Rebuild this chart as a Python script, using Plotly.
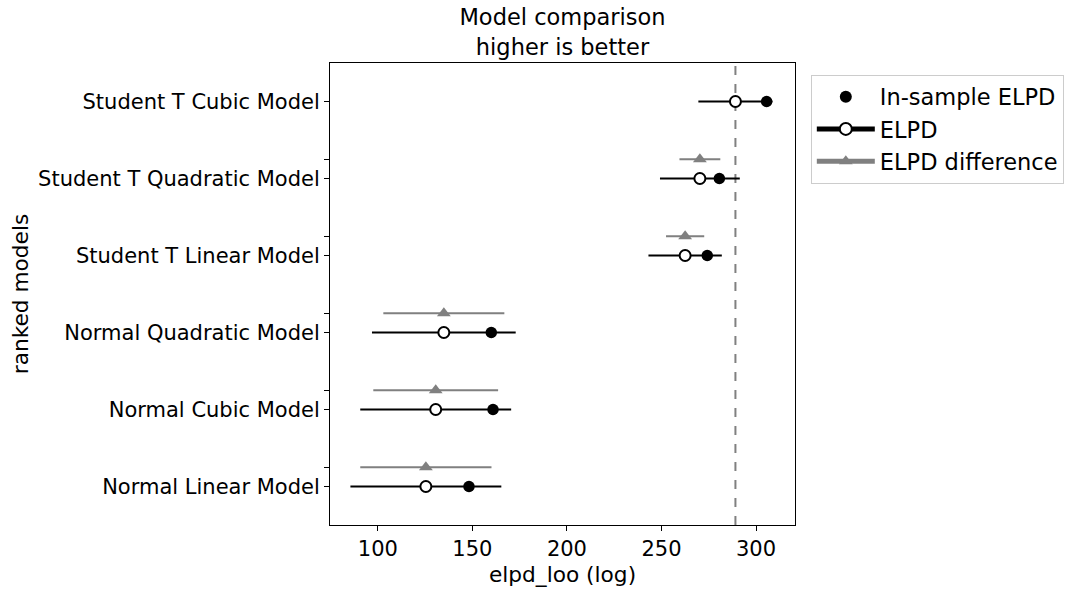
import plotly.graph_objects as go

models = ["Student T Cubic Model", "Student T Quadratic Model", "Student T Linear Model",
          "Normal Quadratic Model", "Normal Cubic Model", "Normal Linear Model"]
elpd_loo = [289.1, 270.3, 262.5, 134.9, 130.6, 125.4]
elpd_se = [19.6, 21.1, 19.4, 38.0, 39.9, 39.9]
in_sample = [305.6, 280.6, 274.2, 160.0, 160.9, 148.2]
diff_se = [None, 10.8, 10.1, 32.0, 33.0, 34.7]

FONT = "DejaVu Sans"
GREY = "#808080"

ypos = list(range(len(models)))
ydiff = [i - 0.25 for i in ypos]


def segments(center, half, y):
    xs, ys, sizes = [], [], []
    for c, h, yy in zip(center, half, y):
        if h is None:
            continue
        xs += [c, c - h, c + h, None]
        ys += [yy, yy, yy, None]
        sizes += [1, 0, 0, 0]
    return xs, ys, sizes


fig = go.Figure()

# ELPD difference (grey triangles)
dx, dy, ds = segments(elpd_loo, diff_se, ydiff)
fig.add_trace(go.Scatter(
    x=dx, y=dy, mode="lines+markers", name="ELPD difference", legendrank=3,
    line=dict(color=GREY, width=2.2),
    marker=dict(symbol="triangle-up", color=GREY, size=[s * 12 for s in ds],
                opacity=1, line=dict(width=0)),
    connectgaps=False,
))

# ELPD (open circles)
ex, ey, es = segments(elpd_loo, elpd_se, ypos)
fig.add_trace(go.Scatter(
    x=ex, y=ey, mode="lines+markers", name="ELPD", legendrank=2,
    line=dict(color="black", width=2.2),
    marker=dict(symbol="circle", color="white", size=[s * 11 for s in es],
                opacity=1, line=dict(color="black", width=2)),
    connectgaps=False,
))

# In-sample ELPD (filled circles)
fig.add_trace(go.Scatter(
    x=in_sample, y=ypos, mode="markers", name="In-sample ELPD", legendrank=1,
    marker=dict(symbol="circle", color="black", size=11.5, opacity=1, line=dict(width=0)),
))

fig.add_vline(x=elpd_loo[0], line=dict(color=GREY, width=2, dash="dash"), layer="below")

fig.update_layout(
    width=1080, height=593,
    margin=dict(l=330, r=285, t=63, b=68, autoexpand=False),
    paper_bgcolor="white", plot_bgcolor="white",
    font=dict(family=FONT, color="black", size=21),
    title=dict(text="Model comparison<br>higher is better", x=(330 + 795) / 2 / 1080,
               xanchor="center", y=0.957, yanchor="top",
               font=dict(family=FONT, size=22.5, color="black")),
    showlegend=True,
    legend=dict(x=1.034, y=0.975, xanchor="left", yanchor="top",
                bordercolor="#cccccc", borderwidth=1, bgcolor="white",
                font=dict(family=FONT, size=22.5, color="black"),
                itemsizing="constant", itemwidth=58, tracegroupgap=0),
)

fig.update_xaxes(
    range=[74.7, 320.6], tickmode="linear", tick0=100, dtick=50,
    showgrid=False, zeroline=False, automargin=False,
    showline=True, linecolor="black", linewidth=1, mirror=True,
    ticks="outside", ticklen=5, tickcolor="black",
    tickfont=dict(size=21),
    title=dict(text="elpd_loo (log)", font=dict(size=21.7), standoff=6),
)

fig.update_yaxes(
    range=[len(models) - 0.5, -0.5],
    tickmode="array", tickvals=ypos, ticktext=models,
    showgrid=False, zeroline=False, automargin=False,
    showline=True, linecolor="black", linewidth=1, mirror=True,
    ticks="outside", ticklen=5, tickcolor="black",
    tickfont=dict(size=21),
    minor=dict(tickmode="array", tickvals=ydiff[1:], ticks="outside", ticklen=5,
               tickcolor="black", showgrid=False),
    title=dict(text="ranked models", font=dict(size=21.7), standoff=3),
)

fig.write_html("out.html", config={"displayModeBar": False},
               post_script="document.body.style.margin='0';")
